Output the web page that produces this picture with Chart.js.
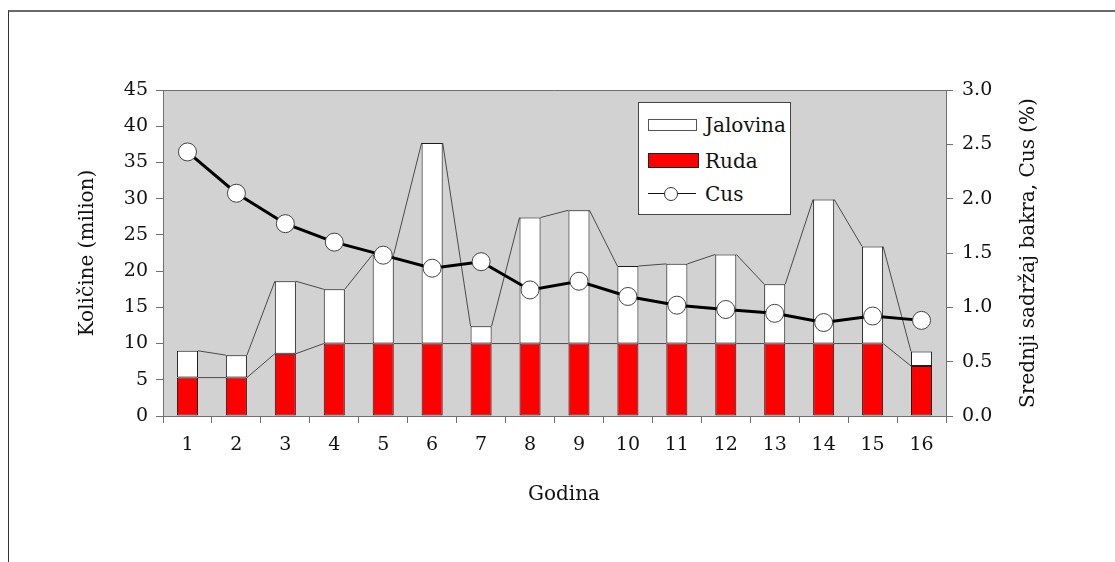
<!DOCTYPE html>
<html lang="sr">
<head>
  <meta charset="UTF-8" />
  <title>Godina - Ruda, Jalovina, Cus</title>
  <script src="https://cdn.jsdelivr.net/npm/chart.js"></script>
  <style>
    body {
      margin: 0;
      background: #fff;
      font-family: 'DejaVu Serif', serif;
    }

    #frame {
      position: absolute;
      left: 8px;
      top: 10px;
      width: 1200px;
      height: 600px;
      border-top: 2px solid #6a6a6a;
      border-left: 1px solid #333;
    }

    #wrap {
      position: absolute;
      left: 0;
      top: 0;
      width: 1115px;
      height: 562px;
    }

    #legend {
      position: absolute;
      left: 638px;
      top: 102px;
      width: 151px;
      height: 111px;
      background: #fff;
      border: 1px solid #444;
      font-size: 20px;
      color: #111;
    }

    .item {
      position: absolute;
      left: 9px;
      height: 24px;
      line-height: 24px;
    }

    .item span {
      position: absolute;
      left: 57px;
      top: 0;
      white-space: nowrap;
    }

    .sw {
      position: absolute;
      left: 0;
      box-sizing: border-box;
    }
  </style>
</head>
<body>

  <div id="frame"></div>

  <div id="wrap">
    <canvas id="chart" width="1115" height="562"></canvas>

    <div id="legend">
      <div class="item" style="top:10px;">
        <div class="sw" style="top:6px; width:49px; height:12px; background:#fff; border:1px solid #555;"></div>
        <span>Jalovina</span>
      </div>
      <div class="item" style="top:46px;">
        <div class="sw" style="top:4px; width:51px; height:15px; background:#ff0000; border:1px solid #222;"></div>
        <span>Ruda</span>
      </div>
      <div class="item" style="top:79px;">
        <div class="sw" style="top:11px; width:48px; height:0; border-top:1px solid #111;"></div>
        <div class="sw" style="left:16px; top:5px; width:14px; height:14px; border-radius:50%; background:#fff; border:1px solid #333;"></div>
        <span>Cus</span>
      </div>
    </div>
  </div>

  <script>
    const godine = ['1', '2', '3', '4', '5', '6', '7', '8', '9', '10', '11', '12', '13', '14', '15', '16'];
    const ruda = [5.3, 5.3, 8.6, 10, 10, 10, 10, 10, 10, 10, 10, 10, 10, 10, 10, 6.9];
    const jalovina = [3.7, 3.1, 10.0, 7.5, 12.3, 27.7, 2.4, 17.4, 18.4, 10.7, 11.0, 12.3, 8.2, 19.9, 13.4, 2.0];
    const cus = [2.43, 2.05, 1.77, 1.60, 1.48, 1.36, 1.42, 1.16, 1.24, 1.10, 1.02, 0.98, 0.945, 0.86, 0.92, 0.88];

    const serif = "'DejaVu Serif', serif";
    const axisGray = '#707070';

    // gray plot background + top frame line
    const plotBg = {
      id: 'plotBg',
      beforeDraw(chart) {
        const { ctx, chartArea: a } = chart;
        ctx.save();
        ctx.fillStyle = '#d2d2d2';
        ctx.fillRect(a.left, a.top, a.right - a.left, a.bottom - a.top);
        ctx.strokeStyle = axisGray;
        ctx.lineWidth = 1;
        ctx.beginPath();
        ctx.moveTo(a.left, a.top + 0.5);
        ctx.lineTo(a.right, a.top + 0.5);
        ctx.stroke();
        ctx.restore();
      }
    };

    // thin series lines between the tops of neighbouring bars
    const seriesLines = {
      id: 'seriesLines',
      beforeDatasetsDraw(chart) {
        const ctx = chart.ctx;
        ctx.save();
        ctx.strokeStyle = '#4a4a4a';
        ctx.lineWidth = 1;
        [0, 1].forEach(i => {
          const bars = chart.getDatasetMeta(i).data;
          for (let k = 0; k < bars.length - 1; k++) {
            const a = bars[k], b = bars[k + 1];
            ctx.beginPath();
            ctx.moveTo(a.x + a.width / 2, a.y);
            ctx.lineTo(b.x - b.width / 2, b.y);
            ctx.stroke();
          }
        });
        ctx.restore();
      }
    };

    // x title and right-hand title (reads bottom to top)
    const extraTitles = {
      id: 'extraTitles',
      afterDraw(chart) {
        const { ctx, chartArea: a } = chart;
        ctx.save();
        ctx.fillStyle = '#111';
        ctx.font = '20px ' + serif;
        ctx.textAlign = 'center';
        ctx.textBaseline = 'middle';
        ctx.fillText('Godina', 564, 495);
        ctx.translate(1029, (a.top + a.bottom) / 2);
        ctx.rotate(-Math.PI / 2);
        ctx.fillText('Srednji sadržaj bakra, Cus (%)', 0, 0);
        ctx.restore();
      }
    };

    const ctx = document.getElementById('chart').getContext('2d');
    new Chart(ctx, {
      data: {
        labels: godine,
        datasets: [
          {
            type: 'bar',
            label: 'Ruda',
            data: ruda,
            backgroundColor: '#ff0000',
            borderColor: '#1a1a1a',
            borderWidth: 1,
            borderSkipped: false,
            barPercentage: 0.43,
            categoryPercentage: 1,
            order: 2
          },
          {
            type: 'bar',
            label: 'Jalovina',
            data: jalovina,
            backgroundColor: '#ffffff',
            borderColor: '#1a1a1a',
            borderWidth: 1,
            borderSkipped: false,
            barPercentage: 0.43,
            categoryPercentage: 1,
            order: 2
          },
          {
            type: 'line',
            label: 'Cus',
            data: cus,
            yAxisID: 'y1',
            borderColor: '#000',
            borderWidth: 3,
            pointRadius: 9,
            pointBackgroundColor: '#fff',
            pointBorderColor: '#444',
            pointBorderWidth: 1,
            tension: 0,
            order: 0
          }
        ]
      },
      options: {
        responsive: false,
        animation: false,
        devicePixelRatio: 1,
        layout: { padding: { top: 90, left: 72, right: 0, bottom: 52 } },
        plugins: {
          legend: { display: false },
          tooltip: { enabled: false }
        },
        scales: {
          x: {
            stacked: true,
            grid: { display: true, drawOnChartArea: false, tickLength: 7, color: axisGray, offset: true },
            border: { color: axisGray },
            ticks: { color: '#111', font: { family: serif, size: 19 }, padding: 11, maxRotation: 0 },
            afterFit(s) { s.height = 94; }
          },
          y: {
            stacked: true,
            min: 0,
            max: 45,
            ticks: { stepSize: 5, color: '#111', font: { family: serif, size: 19 }, padding: 8 },
            grid: { drawOnChartArea: false, tickLength: 7, color: axisGray },
            border: { color: axisGray },
            title: { display: true, text: 'Količine (milion)', color: '#111', font: { family: serif, size: 20 } },
            afterFit(s) { s.width = 91; }
          },
          y1: {
            position: 'right',
            min: 0,
            max: 3,
            ticks: {
              stepSize: 0.5,
              color: '#111',
              font: { family: serif, size: 19 },
              padding: 9,
              callback: v => Number(v).toFixed(1)
            },
            grid: { drawOnChartArea: false, tickLength: 7, color: axisGray },
            border: { color: axisGray },
            afterFit(s) { s.width = 169; }
          }
        }
      },
      plugins: [plotBg, seriesLines, extraTitles]
    });
  </script>

</body>
</html>
